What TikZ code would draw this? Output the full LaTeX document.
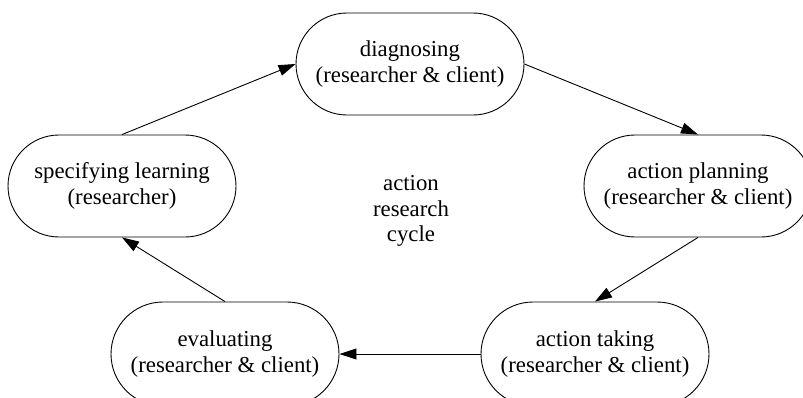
\documentclass[tikz,border=0pt]{standalone}
\usepackage{fontspec}
\setmainfont{Liberation Serif}
\usetikzlibrary{arrows.meta}
\begin{document}
\begin{tikzpicture}[x=1pt,y=-1pt,
  stage/.style={draw=black, line width=0.9pt, rectangle, rounded corners=51pt,
    minimum width=228pt, minimum height=102pt, align=center, inner sep=0pt,
    font=\fontsize{22.8}{25.5}\selectfont},
  low/.style={minimum height=104pt, rounded corners=52pt},
  flow/.style={draw=black, line width=0.9pt, -{Triangle[length=17pt,width=11pt]}},
  lbl/.style={align=center, font=\fontsize{22.8}{25.5}\selectfont}]
\useasboundingbox (0,0) rectangle (803,397);
\node[stage] (d)  at (410,64)  {diagnosing\\(researcher \& client)};
\node[stage] (ap) at (698,186) {action planning\\(researcher \& client)};
\node[stage,low] (at) at (595,354) {action taking\\(researcher \& client)};
\node[stage,low] (ev) at (225,354) {evaluating\\(researcher \& client)};
\node[stage] (sl) at (122,186) {specifying learning\\(researcher)};
\node[lbl] (c) at (411,211) {action\\research\\cycle};
\draw[flow] (d.east) -- (ap.north);
\draw[flow] (ap.south) -- (at.north);
\draw[flow] (at.west) -- (ev.east);
\draw[flow] (ev.north) -- (sl.south);
\draw[flow] (sl.north) -- (d.west);
\end{tikzpicture}
\end{document}
